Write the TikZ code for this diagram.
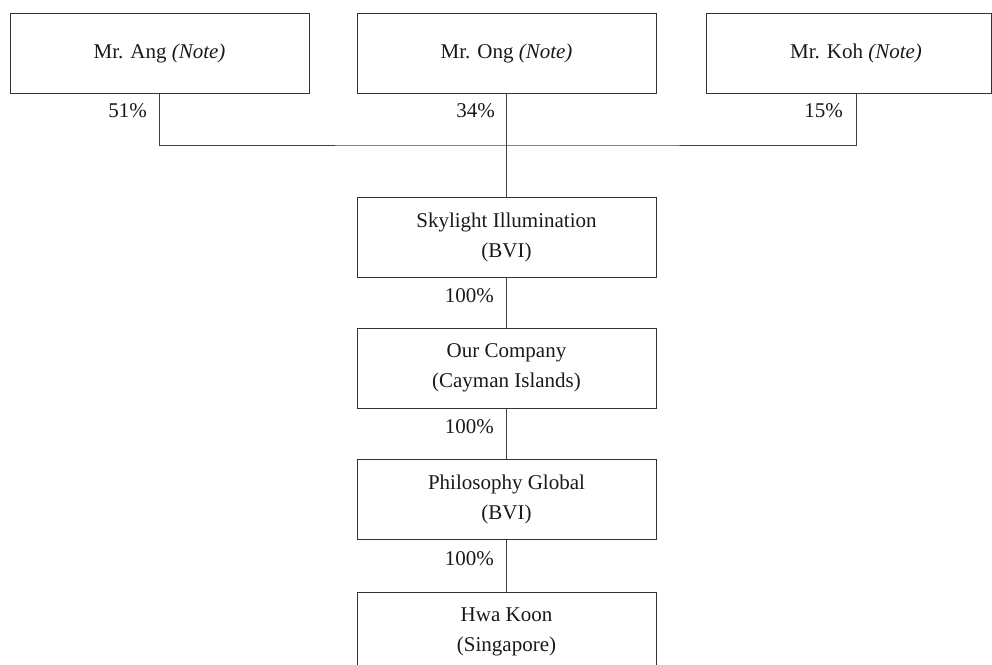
\documentclass[tikz,border=0pt]{standalone}
\usepackage{fontspec}
\setmainfont{Liberation Serif}
\begin{document}
\begin{tikzpicture}[x=1pt,y=-1pt,
  entity/.style={draw=black!80, line width=1pt, minimum width=299pt, minimum height=80pt,
    inner sep=0pt, align=center, font=\fontsize{21}{30}\selectfont, text=black!90},
  link/.style={draw=black!75, line width=0.9pt},
  pct/.style={font=\fontsize{21}{25}\selectfont, text=black!90, inner sep=0pt, anchor=base east}]
\useasboundingbox (0,0) rectangle (992,664);
\clip (0,0) rectangle (992,664);
\node[entity] (ang) at (159.5,53) {Mr. Ang \textit{(Note)}};
\node[entity] (ong) at (506.5,53) {Mr. Ong \textit{(Note)}};
\node[entity, minimum width=285pt] (koh) at (848.5,53) {\hspace*{15pt}Mr. Koh \textit{(Note)}};
\coordinate (kohx) at (856,93);
\coordinate (bus) at (506.5,145);
\node[entity] (sky) at (506.5,237) {Skylight Illumination\\(BVI)};
\node[entity] (our) at (506.5,368) {Our Company\\(Cayman Islands)};
\node[entity] (phil) at (506.5,499) {Philosophy Global\\(BVI)};
\node[entity] (hwa) at (506.5,632) {Hwa Koon\\(Singapore)};
\draw[link] (ang.south) |- (bus) -| (kohx);
\draw[link] (ong.south) -- (sky.north);
\draw[link] (sky.south) -- (our.north);
\draw[link] (our.south) -- (phil.north);
\draw[link] (phil.south) -- (hwa.north);
\node[pct] (p1) at (147,117) {51\%};
\node[pct] (p2) at (495,117) {34\%};
\node[pct] (p3) at (843,117) {15\%};
\node[pct] (p4) at (494,302) {100\%};
\node[pct] (p5) at (494,433) {100\%};
\node[pct] (p6) at (494,565) {100\%};
\end{tikzpicture}
\end{document}
